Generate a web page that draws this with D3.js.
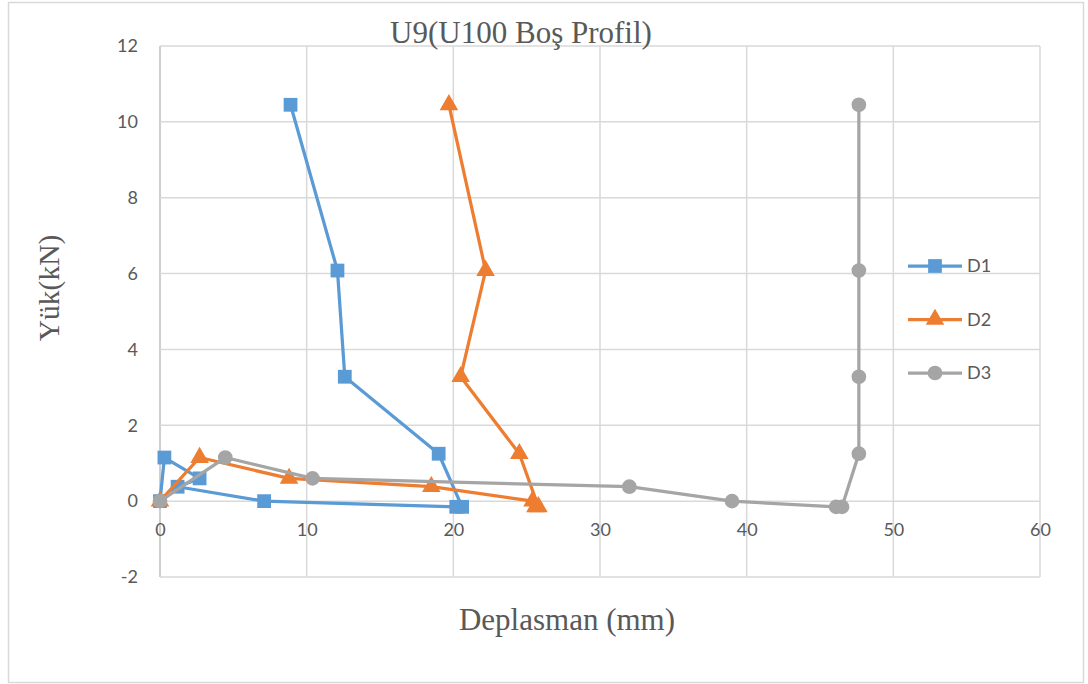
<!DOCTYPE html>
<html>
<head>
<meta charset="utf-8">
<script src="https://cdn.jsdelivr.net/npm/d3@7"></script>
<style>
  html, body { margin: 0; padding: 0; background: #fff; }
  svg { display: block; }
</style>
</head>
<body>
<svg id="chart" width="1088" height="684"></svg>
<script>
// Load steps (kN), shared by all three gauges
const loads = [0, 1.15, 0.6, 0.38, 0, -0.15, -0.15, 1.25, 3.28, 6.08, 10.45];
// Displacement readings (mm) for each gauge
const dispD1 = [0, 0.3, 2.7, 1.2, 7.1, 20.2, 20.6, 19.0, 12.6, 12.1, 8.9];
const dispD2 = [0, 2.7, 8.8, 18.5, 25.4, 25.6, 25.8, 24.5, 20.5, 22.2, 19.7];
const dispD3 = [0, 4.45, 10.4, 32.0, 39.0, 46.1, 46.5, 47.65, 47.65, 47.65, 47.65];
const seriesNames = ["D1", "D2", "D3"];
const xTicks = [0, 10, 20, 30, 40, 50, 60];
const yTicks = [-2, 0, 2, 4, 6, 8, 10, 12];

const colors = ["#5b9bd5", "#ed7d31", "#a5a5a5"];
const shapes = [d3.symbolSquare, d3.symbolTriangle, d3.symbolCircle];
const shapeSizes = [190, 150, 170];

const svg = d3.select("#chart");

// outer chart frame
svg.append("rect")
  .attr("x", 8.5).attr("y", 2.5).attr("width", 1075).attr("height", 680)
  .attr("fill", "#fff").attr("stroke", "#d9d9d9").attr("stroke-width", 1.5);

const x = d3.scaleLinear().domain([0, 60]).range([160, 1040]);
const y = d3.scaleLinear().domain([-2, 12]).range([577, 46]);

// gridlines
const grid = svg.append("g");
grid.selectAll("line.v").data(xTicks).join("line")
  .attr("x1", d => x(d)).attr("x2", d => x(d))
  .attr("y1", y(12)).attr("y2", y(-2))
  .attr("stroke", d => d === 0 ? "#bfbfbf" : "#d9d9d9").attr("stroke-width", 1.5);
grid.selectAll("line.h").data(yTicks).join("line")
  .attr("x1", x(0)).attr("x2", x(60))
  .attr("y1", d => y(d)).attr("y2", d => y(d))
  .attr("stroke", "#d9d9d9").attr("stroke-width", 1.5);

const tickFont = "Lato, 'Open Sans', sans-serif";
const plain = d => String(d);

// y axis tick labels
const yAxis = d3.axisLeft(y).tickValues(yTicks).tickFormat(plain).tickSize(0).tickPadding(22);
const gy = svg.append("g").attr("transform", `translate(${x(0)},0)`).call(yAxis);
gy.select(".domain").remove();
gy.selectAll("text").attr("font-family", tickFont)
  .attr("font-size", 18).attr("fill", "#595959");

// x axis tick labels, placed along the zero line
const xAxis = d3.axisBottom(x).tickValues(xTicks).tickFormat(plain).tickSize(0).tickPadding(22);
const gx = svg.append("g").attr("transform", `translate(0,${y(0)})`).call(xAxis);
gx.select(".domain").remove();
gx.selectAll("text").attr("font-family", tickFont)
  .attr("font-size", 18).attr("fill", "#595959");

// series
const allX = [dispD1, dispD2, dispD3];
const line = d3.line().x(d => x(d[0])).y(d => y(d[1]));
allX.forEach((xs, i) => {
  const pts = xs.map((v, j) => [v, loads[j]]);
  const g = svg.append("g");
  g.append("path").datum(pts).attr("d", line)
    .attr("fill", "none").attr("stroke", colors[i]).attr("stroke-width", 3.25)
    .attr("stroke-linejoin", "round");
  g.selectAll("path.m").data(pts).join("path")
    .attr("class", "m")
    .attr("transform", d => `translate(${x(d[0])},${y(d[1])})`)
    .attr("d", d3.symbol().type(shapes[i]).size(shapeSizes[i]))
    .attr("fill", colors[i]);
});

// legend
const legend = svg.append("g");
seriesNames.forEach((name, i) => {
  const ly = 266 + i * 53.5;
  legend.append("line").attr("x1", 908).attr("x2", 962).attr("y1", ly).attr("y2", ly)
    .attr("stroke", colors[i]).attr("stroke-width", 3.25);
  legend.append("path").attr("transform", `translate(935,${ly})`)
    .attr("d", d3.symbol().type(shapes[i]).size(shapeSizes[i])).attr("fill", colors[i]);
  legend.append("text").attr("x", 967).attr("y", ly).attr("dy", "0.35em")
    .attr("font-family", tickFont).attr("font-size", 18)
    .attr("fill", "#595959").text(name);
});

// titles
const serif = "'Liberation Serif', 'Times New Roman', serif";
svg.append("text").attr("x", 521).attr("y", 43).attr("text-anchor", "middle")
  .attr("font-family", serif).attr("font-size", 31)
  .attr("fill", "#595959").text("U9(U100 Boş Profil)");
svg.append("text").attr("x", 567).attr("y", 630).attr("text-anchor", "middle")
  .attr("font-family", serif).attr("font-size", 31)
  .attr("fill", "#595959").text("Deplasman (mm)");
svg.append("text").attr("transform", "translate(59,288) rotate(-90)").attr("text-anchor", "middle")
  .attr("font-family", serif).attr("font-size", 29.5)
  .attr("fill", "#595959").text("Yük(kN)");
</script>
</body>
</html>
